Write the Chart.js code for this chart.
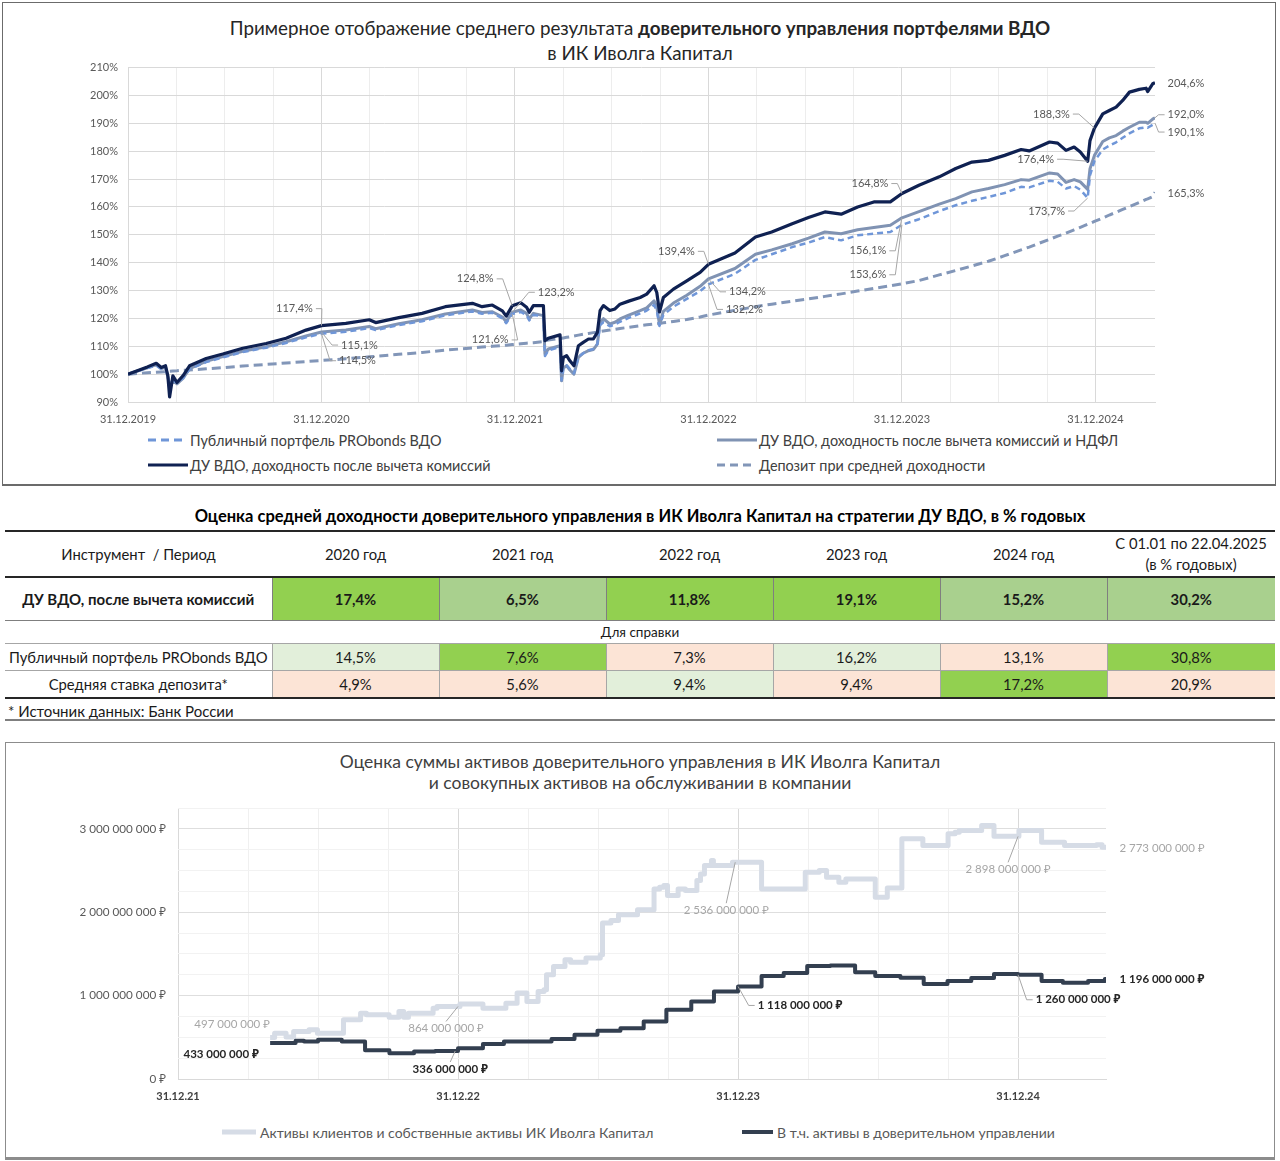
<!DOCTYPE html>
<html lang="ru">
<head>
<meta charset="utf-8">
<script src="https://cdn.jsdelivr.net/npm/chart.js@4.4.1/dist/chart.umd.min.js"></script>
<style>
  body { margin:0; width:1280px; height:1161px; position:relative; overflow:hidden; background:#fff;
         font-family: Lato, "Noto Sans", sans-serif; color:#404040; }
  .box { position:absolute; box-sizing:border-box; border:1px solid #6b6b6b; }
  .title { position:absolute; left:0; width:1280px; text-align:center; }
  .lg { position:absolute; display:flex; align-items:center; height:20px; font-size:14.4px; color:#404040; white-space:nowrap; }
  .lg svg { margin-right:2px; }
  table.yield { position:absolute; left:5px; top:530px; width:1270px; border-collapse:collapse; table-layout:fixed;
                font-size:14.8px; color:#1a1a1a; }
  table.yield td { text-align:center; padding:0; white-space:nowrap; }
  tr.head td { height:44px; border-top:2px solid #262626; border-bottom:2px solid #262626; line-height:21px; }
  tr.du td { height:42px; font-weight:bold; border-bottom:1px solid #7f7f7f; border-left:1px solid #7f7f7f; }
  tr.du td:first-child { border-left:none; font-size:15px; }
  tr.ref td { height:22px; font-size:13.5px; border-bottom:1px solid #a6a6a6; }
  tr.pub td, tr.dep td { height:26px; border-bottom:1px solid #a6a6a6; border-left:1px solid #a6a6a6; }
  tr.pub td:first-child, tr.dep td:first-child { border-left:none; }
  tr.dep td { border-bottom:2px solid #262626; }
  .g1 { background:#92d050; } .g2 { background:#a9d08e; } .g3 { background:#e2efda; } .pk { background:#fce4d6; }
  canvas { position:absolute; }
</style>
</head>
<body>

<div class="box" style="left:2px; top:2px; width:1274px; height:484px; border-bottom-width:2px;"></div>
<div class="title" style="top:15px; font-size:18.8px; line-height:25px; color:#262626;">
  Примерное отображение среднего результата <b>доверительного управления портфелями ВДО</b><br>в ИК Иволга Капитал
</div>
<canvas id="perf" width="1274" height="379" style="left:2px; top:51px; width:1274px; height:379px;"></canvas>

<div class="lg" style="left:148px; top:430px;">
  <svg width="40" height="6"><line x1="0" y1="3" x2="38" y2="3" stroke="#6f96d8" stroke-width="3" stroke-dasharray="8,5"/></svg>Публичный портфель PRObonds ВДО</div>
<div class="lg" style="left:148px; top:455px;">
  <svg width="40" height="6"><line x1="0" y1="3" x2="40" y2="3" stroke="#0f2152" stroke-width="3"/></svg>ДУ ВДО, доходность после вычета комиссий</div>
<div class="lg" style="left:717px; top:430px;">
  <svg width="40" height="6"><line x1="0" y1="3" x2="40" y2="3" stroke="#8093b3" stroke-width="3"/></svg>ДУ ВДО, доходность после вычета комиссий и НДФЛ</div>
<div class="lg" style="left:717px; top:455px;">
  <svg width="40" height="6"><line x1="0" y1="3" x2="38" y2="3" stroke="#8296b8" stroke-width="3" stroke-dasharray="8,5"/></svg>Депозит при средней доходности</div>

<div class="title" style="top:506px; font-size:16.5px; line-height:20px; font-weight:bold; color:#000;">
  Оценка средней доходности доверительного управления в ИК Иволга Капитал на стратегии ДУ ВДО, в % годовых
</div>
<table class="yield">
  <colgroup><col style="width:267px"><col style="width:167px"><col style="width:167px"><col style="width:167px"><col style="width:167px"><col style="width:167px"><col style="width:168px"></colgroup>
  <tr class="head"><td>Инструмент&nbsp; / Период</td><td>2020 год</td><td>2021 год</td><td>2022 год</td><td>2023 год</td><td>2024 год</td><td>С 01.01 по 22.04.2025<br>(в % годовых)</td></tr>
  <tr class="du"><td>ДУ ВДО, после вычета комиссий</td><td class="g1">17,4%</td><td class="g2">6,5%</td><td class="g1">11,8%</td><td class="g1">19,1%</td><td class="g2">15,2%</td><td class="g2">30,2%</td></tr>
  <tr class="ref"><td colspan="7">Для справки</td></tr>
  <tr class="pub"><td>Публичный портфель PRObonds ВДО</td><td class="g3">14,5%</td><td class="g1">7,6%</td><td class="pk">7,3%</td><td class="g3">16,2%</td><td class="pk">13,1%</td><td class="g1">30,8%</td></tr>
  <tr class="dep"><td>Средняя ставка депозита*</td><td class="pk">4,9%</td><td class="pk">5,6%</td><td class="g3">9,4%</td><td class="pk">9,4%</td><td class="g1">17,2%</td><td class="pk">20,9%</td></tr>
</table>
<div style="position:absolute; left:8px; top:702px; font-size:15px; color:#1a1a1a;">* Источник данных: Банк России</div>
<div style="position:absolute; left:5px; top:719px; width:1270px; height:0; border-top:2px solid #7f7f7f;"></div>

<div class="box" style="left:5px; top:742px; width:1270px; height:418px; border-color:#8c8c8c; border-bottom-width:3px;"></div>
<div class="title" style="top:751px; font-size:17.5px; line-height:21px; color:#404040;">
  Оценка суммы активов доверительного управления в ИК Иволга Капитал<br>и совокупных активов на обслуживании в компании
</div>
<canvas id="assets" width="1270" height="321" style="left:5px; top:789px; width:1270px; height:321px;"></canvas>

<div class="lg" style="left:222px; top:1122px; font-size:14px; color:#595959;">
  <svg width="36" height="6"><line x1="0" y1="3" x2="34" y2="3" stroke="#d6dce6" stroke-width="5"/></svg>Активы клиентов и собственные активы ИК Иволга Капитал</div>
<div class="lg" style="left:742px; top:1122px; font-size:14px; color:#595959;">
  <svg width="33" height="6"><line x1="0" y1="3" x2="31" y2="3" stroke="#333f50" stroke-width="4"/></svg>В т.ч. активы в доверительном управлении</div>

<script>
const FONT = 'Lato, "Noto Sans", sans-serif';

// ---- top chart: years since 31.12.2019, values in % of start
const yearsT = [
  0, 0.1, 0.146, 0.172, 0.194, 0.206, 0.215, 0.232, 0.253, 0.284,
  0.318, 0.404, 0.49, 0.593, 0.714, 0.817, 0.92, 1.0, 1.126, 1.247,
  1.28, 1.4, 1.52, 1.64, 1.78, 1.83, 1.883, 1.935, 1.955, 1.986,
  2.03, 2.06, 2.074, 2.095, 2.147, 2.155, 2.172, 2.233, 2.241, 2.25,
  2.267, 2.284, 2.305, 2.328, 2.353, 2.38, 2.405, 2.426, 2.44, 2.457,
  2.49, 2.517, 2.543, 2.588, 2.647, 2.681, 2.719, 2.733, 2.747, 2.767,
  2.819, 2.888, 2.957, 3.0, 3.137, 3.243, 3.327, 3.433, 3.517, 3.602,
  3.686, 3.771, 3.855, 3.94, 4.0, 4.088, 4.193, 4.278, 4.362, 4.447,
  4.531, 4.616, 4.658, 4.763, 4.805, 4.848, 4.89, 4.922, 4.96, 4.972,
  4.995, 5.038, 5.072, 5.107, 5.141, 5.176, 5.227, 5.262, 5.27, 5.296, 5.308
];
const duNet = [
  100, 102.6, 103.9, 102.4, 103, 99.4, 91.8, 99.4, 97, 99.4,
  103, 105.6, 107.2, 109.3, 111, 112.9, 115.8, 117.4, 118.2, 119.5,
  118.5, 120.3, 121.8, 124.2, 125.4, 124.2, 124.8, 122.7, 120.8, 124.5,
  125.6, 124, 122.2, 124.6, 124.6, 112, 112.9, 114.1, 101.2, 106,
  106.6, 104.8, 103, 110.2, 111.4, 112.6, 112.6, 115, 122.8, 124.6,
  122.8, 123.4, 125.1, 126.2, 127.5, 128.7, 131.7, 129.3, 122.3, 127.5,
  130.5, 133.5, 136.5, 139.4, 143.5, 149.2, 151, 154, 156.2, 158.2,
  157.4, 160, 161.8, 161.8, 164.8, 167.8, 170.8, 173.8, 176.1, 176.7,
  178.5, 180.6, 180.1, 183.3, 182.9, 180.3, 181.5, 179.7, 176.4, 183.8,
  188.3, 193.4, 194.6, 195.8, 198.2, 201.2, 202.2, 202.6, 201.4, 204.2, 204.6
];
const duNetTax = [
  100, 102.3, 103.4, 102, 102.5, 99, 96, 97.5, 96.5, 98.5,
  102, 104.6, 106.3, 108.2, 109.8, 111.6, 113.7, 115.1, 115.8, 117.1,
  116.3, 118.1, 119.5, 121.6, 123, 122.1, 122.4, 120.5, 118.8, 122.2,
  123, 121.8, 119.8, 121.8, 121, 107.2, 109, 110.2, 97.6, 102.2,
  103, 101.5, 100, 106, 107.5, 108.4, 108.8, 110.8, 118.6, 119.9,
  118, 118.6, 119.8, 121.2, 122.8, 123.8, 126.3, 124.2, 117.8, 122.5,
  125.5, 128.3, 131.5, 134.2, 137.9, 143, 144.6, 146.8, 148.8, 151,
  150.4, 151.8, 152.6, 153.4, 156.1, 158.3, 161, 163, 165.4, 166.6,
  168, 169.8, 169.6, 172.2, 171.8, 168.8, 169.8, 169, 166.3, 173.7,
  178.5, 183.5, 184.8, 185.6, 187.2, 188.6, 190.4, 190.4, 190, 191.5, 192
];
const publicVdo = [
  100, 102.2, 103.1, 101.8, 102.3, 99, 96.5, 97.5, 97, 98.5,
  101.8, 104.3, 106, 107.9, 109.5, 111.2, 113.2, 114.5, 115.2, 116.5,
  115.8, 117.6, 119, 121.1, 122.5, 121.7, 122, 120, 118.3, 121.6,
  122.3, 121.2, 119.3, 121.2, 120.8, 106.5, 108.5, 109.8, 97.8, 102.4,
  103.2, 101.8, 100.3, 106.2, 107.5, 108.6, 109, 110.8, 117.6, 118.6,
  117.2, 117.8, 118.8, 120.2, 121.8, 122.8, 124.8, 122.8, 117.3, 121.2,
  124.2, 127, 129.8, 132.2, 136, 141, 143, 145.6, 147.2, 149.2,
  148, 149.8, 150.4, 151, 153.6, 155.6, 158.5, 160.6, 162.2, 163.6,
  165, 167.2, 167, 169.4, 169, 166.6, 167.5, 166.2, 163.2, 171.3,
  176.5, 180.6, 182, 183.2, 184.8, 186.4, 188.2, 188.6, 188.4, 189.5, 190.1
];
const deposit = [
  100, 100.5, 100.7, 100.8, 100.9, 101, 101, 101.1, 101.2, 101.4,
  101.5, 101.9, 102.3, 102.9, 103.5, 104, 104.5, 104.9, 105.5, 106.2,
  106.4, 107.1, 107.8, 108.6, 109.4, 109.7, 110, 110.3, 110.4, 110.6,
  110.9, 111.1, 111.2, 111.3, 111.7, 112, 112.2, 112.8, 112.9, 113,
  113.2, 113.4, 113.7, 114, 114.3, 114.6, 114.9, 115.1, 115.3, 115.5,
  115.8, 116.1, 116.4, 116.8, 117.4, 117.7, 118, 118.1, 118.2, 118.4,
  118.9, 119.6, 120.5, 121.2, 122.9, 124.2, 125.1, 126.2, 127, 127.9,
  128.8, 129.8, 130.8, 131.7, 132.4, 133.6, 135.6, 137.2, 138.8, 140.5,
  142.5, 144.6, 145.6, 148.4, 149.5, 150.6, 151.8, 152.7, 153.8, 154.1,
  154.8, 156, 157.1, 158.1, 159.1, 160.1, 161.6, 162.7, 162.9, 163.7, 165.3
];
const perfYearLabels = ['31.12.2019', '31.12.2020', '31.12.2021', '31.12.2022', '31.12.2023', '31.12.2024'];

// ---- bottom chart: years since 31.12.2021, values in mln RUB
const assetsAllT = [
  0.329, 0.345, 0.386, 0.413, 0.468, 0.498, 0.591, 0.652, 0.673, 0.754,
  0.789, 0.806, 0.823, 0.911, 0.925, 1.007, 1.089, 1.171, 1.211, 1.246,
  1.286, 1.307, 1.316, 1.341, 1.382, 1.402, 1.457, 1.508, 1.516, 1.546,
  1.573, 1.641, 1.70, 1.72, 1.735, 1.748, 1.786, 1.812, 1.853, 1.866,
  1.88, 1.905, 1.912, 1.98, 2.084, 2.24, 2.29, 2.316, 2.36, 2.385,
  2.49, 2.533, 2.585, 2.66, 2.75, 2.775, 2.79, 2.87, 2.914, 3.003,
  3.084, 3.166, 3.28, 3.30, 3.314
];
const assetsAllV = [
  497, 550, 505, 570, 590, 550, 710, 790, 770, 740,
  810, 740, 790, 850, 870, 900, 850, 910, 1030, 930,
  1050, 1070, 1250, 1350, 1430, 1400, 1450, 1490, 1870, 1900,
  1970, 2030, 2280, 2300, 2320, 2200, 2280, 2260, 2380, 2460,
  2560, 2620, 2560, 2600, 2280, 2480, 2500, 2420, 2360, 2400,
  2180, 2290, 2880, 2800, 2940, 2960, 2980, 3040, 2910, 2980,
  2840, 2800, 2810, 2780, 2773
];
const assetsDuT = [
  0.329, 0.42, 0.45, 0.50, 0.585, 0.668, 0.755, 0.843, 0.918, 1.0,
  1.089, 1.164, 1.334, 1.416, 1.498, 1.58, 1.663, 1.744, 1.833, 1.914,
  2.0, 2.084, 2.163, 2.247, 2.33, 2.418, 2.49, 2.58, 2.663, 2.748,
  2.833, 2.914, 3.0, 3.084, 3.16, 3.25, 3.31, 3.314
];
const assetsDuV = [
  433, 460, 450, 470, 450, 344, 310, 330, 336, 370,
  420, 450, 480, 530, 580, 610, 690, 830, 930, 1050,
  1110, 1235, 1270, 1355, 1360, 1280, 1235, 1215, 1140, 1175,
  1210, 1260, 1250, 1175, 1155, 1175, 1200, 1196
];
const assetsYearLabels = ['31.12.21', '31.12.22', '31.12.23', '31.12.24'];

// value of a series at time t (last point not later than t)
function valueAt(ts, vs, t) {
  let v = vs[0];
  for (let i = 0; i < ts.length; i++) {
    if (ts[i] <= t + 1e-9) v = vs[i];
  }
  return v;
}

function pts(ts, vs) {
  return ts.map((t, i) => ({ x: t, y: vs[i] }));
}

function isWhole(v) { return Math.abs(v - Math.round(v)) < 1e-6; }
function quarterTicks(s) { s.ticks = s.ticks.filter(tk => isWhole(tk.value * 4)); }

function groupDigits(n) {
  return String(Math.round(n)).replace(/\B(?=(\d{3})+(?!\d))/g, ' ');
}

// data labels with leader lines, positioned relative to a point of a series
function makeCallouts(items, series, fontSize, defaultColor) {
  return {
    id: 'callouts',
    afterDatasetsDraw(chart) {
      const ctx = chart.ctx;
      const sx = chart.scales.x, sy = chart.scales.y;
      items.forEach(it => {
        const src = series[it.s];
        const ax = sx.getPixelForValue(it.t);
        const ay = sy.getPixelForValue(valueAt(src[0], src[1], it.t));
        const tx = ax + it.dx, ty = ay + it.dy;
        ctx.save();
        ctx.font = (it.bold ? 'bold ' : '') + fontSize + 'px ' + FONT;
        const hw = ctx.measureText(it.text).width / 2;
        if (it.leader !== false) {
          ctx.strokeStyle = '#a6a6a6';
          ctx.lineWidth = 1;
          ctx.beginPath();
          if (it.dx < -hw) {
            ctx.moveTo(tx + hw + 3, ty);
            ctx.lineTo(tx + hw + 9, ty);
          } else if (it.dx > hw) {
            ctx.moveTo(tx - hw - 3, ty);
            ctx.lineTo(tx - hw - 9, ty);
          } else {
            ctx.moveTo(tx, ty + (it.dy > 0 ? -7 : 7));
          }
          ctx.lineTo(ax, ay);
          ctx.stroke();
        }
        ctx.fillStyle = it.color || defaultColor;
        ctx.textAlign = 'center';
        ctx.textBaseline = 'middle';
        ctx.fillText(it.text, tx, ty);
        ctx.restore();
      });
    }
  };
}

Chart.defaults.font.family = FONT;
Chart.defaults.font.size = 11;
Chart.defaults.color = '#595959';

// ---------- top chart
const perfSeries = {
  du: [yearsT, duNet],
  tax: [yearsT, duNetTax],
  pub: [yearsT, publicVdo],
  dep: [yearsT, deposit]
};
const perfLabels = [
  { s: 'du', t: 1.0, text: '117,4%', dx: -27, dy: -17 },
  { s: 'tax', t: 1.0, text: '115,1%', dx: 38, dy: 13 },
  { s: 'pub', t: 1.0, text: '114,5%', dx: 36, dy: 27 },
  { s: 'du', t: 1.986, text: '124,8%', dx: -37, dy: -27 },
  { s: 'tax', t: 1.986, text: '123,2%', dx: 44, dy: -20 },
  { s: 'pub', t: 1.986, text: '121,6%', dx: -22, dy: 26 },
  { s: 'du', t: 3.0, text: '139,4%', dx: -32, dy: -13 },
  { s: 'tax', t: 3.0, text: '134,2%', dx: 39, dy: 13 },
  { s: 'pub', t: 3.0, text: '132,2%', dx: 36, dy: 25 },
  { s: 'du', t: 4.0, text: '164,8%', dx: -32, dy: -10 },
  { s: 'tax', t: 4.0, text: '156,1%', dx: -34, dy: 33 },
  { s: 'pub', t: 4.0, text: '153,6%', dx: -34, dy: 50 },
  { s: 'du', t: 4.995, text: '188,3%', dx: -43, dy: -14 },
  { s: 'du', t: 4.96, text: '176,4%', dx: -52, dy: -2 },
  { s: 'pub', t: 4.96, text: '173,7%', dx: -41, dy: 13 },
  { s: 'du', t: 5.308, text: '204,6%', dx: 31, dy: 1, leader: false },
  { s: 'tax', t: 5.308, text: '192,0%', dx: 31, dy: -3 },
  { s: 'pub', t: 5.308, text: '190,1%', dx: 31, dy: 9 },
  { s: 'dep', t: 5.308, text: '165,3%', dx: 31, dy: 1, leader: false }
];

new Chart(document.getElementById('perf'), {
  type: 'line',
  data: {
    datasets: [
      { label: 'ДУ ВДО, доходность после вычета комиссий', data: pts(yearsT, duNet),
        borderColor: '#0f2152', borderWidth: 3.2, order: 0 },
      { label: 'Публичный портфель PRObonds ВДО', data: pts(yearsT, publicVdo),
        borderColor: '#6f96d8', borderWidth: 2.5, borderDash: [6, 4], order: 1 },
      { label: 'ДУ ВДО, доходность после вычета комиссий и НДФЛ', data: pts(yearsT, duNetTax),
        borderColor: '#8093b3', borderWidth: 3, order: 2 },
      { label: 'Депозит при средней доходности', data: pts(yearsT, deposit),
        borderColor: '#8296b8', borderWidth: 3, borderDash: [9, 5], order: 3 }
    ]
  },
  options: {
    responsive: false,
    animation: false,
    layout: { padding: { left: 0, right: 121, top: 8, bottom: 0 } },
    elements: { point: { radius: 0 }, line: { tension: 0, borderJoinStyle: 'round' } },
    plugins: { legend: { display: false }, tooltip: { enabled: false } },
    scales: {
      x: {
        type: 'linear', min: 0, max: 5.308,
        afterBuildTicks: quarterTicks,
        afterFit: s => { s.height = 28; },
        ticks: { stepSize: 0.25, autoSkip: false, maxRotation: 0, padding: 11,
                 callback: v => isWhole(v) ? perfYearLabels[Math.round(v)] : '' },
        grid: { drawTicks: false, color: c => (c.tick && isWhole(c.tick.value)) ? '#d9d9d9' : '#ededed' },
        border: { color: '#d9d9d9' }
      },
      y: {
        min: 90, max: 210,
        afterFit: s => { s.width = 126; },
        ticks: { stepSize: 10, padding: 10, callback: v => v + '%' },
        grid: { drawTicks: false, color: '#d9d9d9' },
        border: { display: false }
      }
    }
  },
  plugins: [makeCallouts(perfLabels, perfSeries, 11, '#595959')]
});

// ---------- bottom chart
const assetsSeries = {
  all: [assetsAllT, assetsAllV],
  du: [assetsDuT, assetsDuV]
};
const GREY = '#a6a6a6', DARK = '#262626';
const assetsLabels = [
  { s: 'all', t: 0.329, text: '497 000 000 ₽', dx: -38, dy: -13, leader: false, color: GREY },
  { s: 'du', t: 0.329, text: '433 000 000 ₽', dx: -49, dy: 11, leader: false, color: DARK, bold: true },
  { s: 'all', t: 1.0, text: '864 000 000 ₽', dx: -12, dy: 22, color: GREY },
  { s: 'du', t: 0.99, text: '336 000 000 ₽', dx: -5, dy: 18, color: DARK, bold: true },
  { s: 'all', t: 1.99, text: '2 536 000 000 ₽', dx: -9, dy: 48, color: GREY },
  { s: 'du', t: 2.0, text: '1 118 000 000 ₽', dx: 62, dy: 19, color: DARK, bold: true },
  { s: 'all', t: 3.0, text: '2 898 000 000 ₽', dx: -10, dy: 33, color: GREY },
  { s: 'du', t: 3.0, text: '1 260 000 000 ₽', dx: 60, dy: 25, color: DARK, bold: true },
  { s: 'all', t: 3.314, text: '2 773 000 000 ₽', dx: 56, dy: 1, leader: false, color: GREY },
  { s: 'du', t: 3.314, text: '1 196 000 000 ₽', dx: 56, dy: 0, leader: false, color: DARK, bold: true }
];

new Chart(document.getElementById('assets'), {
  type: 'line',
  data: {
    datasets: [
      { label: 'Активы клиентов и собственные активы ИК Иволга Капитал', data: pts(assetsAllT, assetsAllV),
        stepped: true, borderColor: '#d6dce6', borderWidth: 5, order: 1 },
      { label: 'В т.ч. активы в доверительном управлении', data: pts(assetsDuT, assetsDuV),
        stepped: true, borderColor: '#333f50', borderWidth: 4, order: 0 }
    ]
  },
  options: {
    responsive: false,
    animation: false,
    layout: { padding: { left: 0, right: 169, top: 5, bottom: 0 } },
    elements: { point: { radius: 0 }, line: { borderJoinStyle: 'round' } },
    plugins: { legend: { display: false }, tooltip: { enabled: false } },
    scales: {
      x: {
        type: 'linear', min: 0, max: 3.314,
        afterBuildTicks: quarterTicks,
        afterFit: s => { s.height = 31; },
        ticks: { stepSize: 0.25, autoSkip: false, maxRotation: 0, padding: 11, color: '#404040',
                 font: { weight: 'bold', size: 11 },
                 callback: v => isWhole(v) ? assetsYearLabels[Math.round(v)] : '' },
        grid: { drawTicks: false, color: c => (c.tick && isWhole(c.tick.value)) ? '#d9d9d9' : '#f0f0f0' },
        border: { color: '#d9d9d9' }
      },
      y: {
        min: 0, max: 3250,
        afterBuildTicks: s => { s.ticks = s.ticks.filter(tk => isWhole(tk.value / 250)); },
        afterFit: s => { s.width = 173; },
        ticks: { stepSize: 250, autoSkip: false, padding: 12, font: { size: 11.7 },
                 callback: v => isWhole(v / 1000) ? groupDigits(v * 1e6) + ' ₽' : '' },
        grid: { drawTicks: false, color: c => (c.tick && isWhole(c.tick.value / 1000)) ? '#dedede' : '#f2f2f2' },
        border: { display: false }
      }
    }
  },
  plugins: [makeCallouts(assetsLabels, assetsSeries, 11.5, GREY)]
});
</script>
</body>
</html>
